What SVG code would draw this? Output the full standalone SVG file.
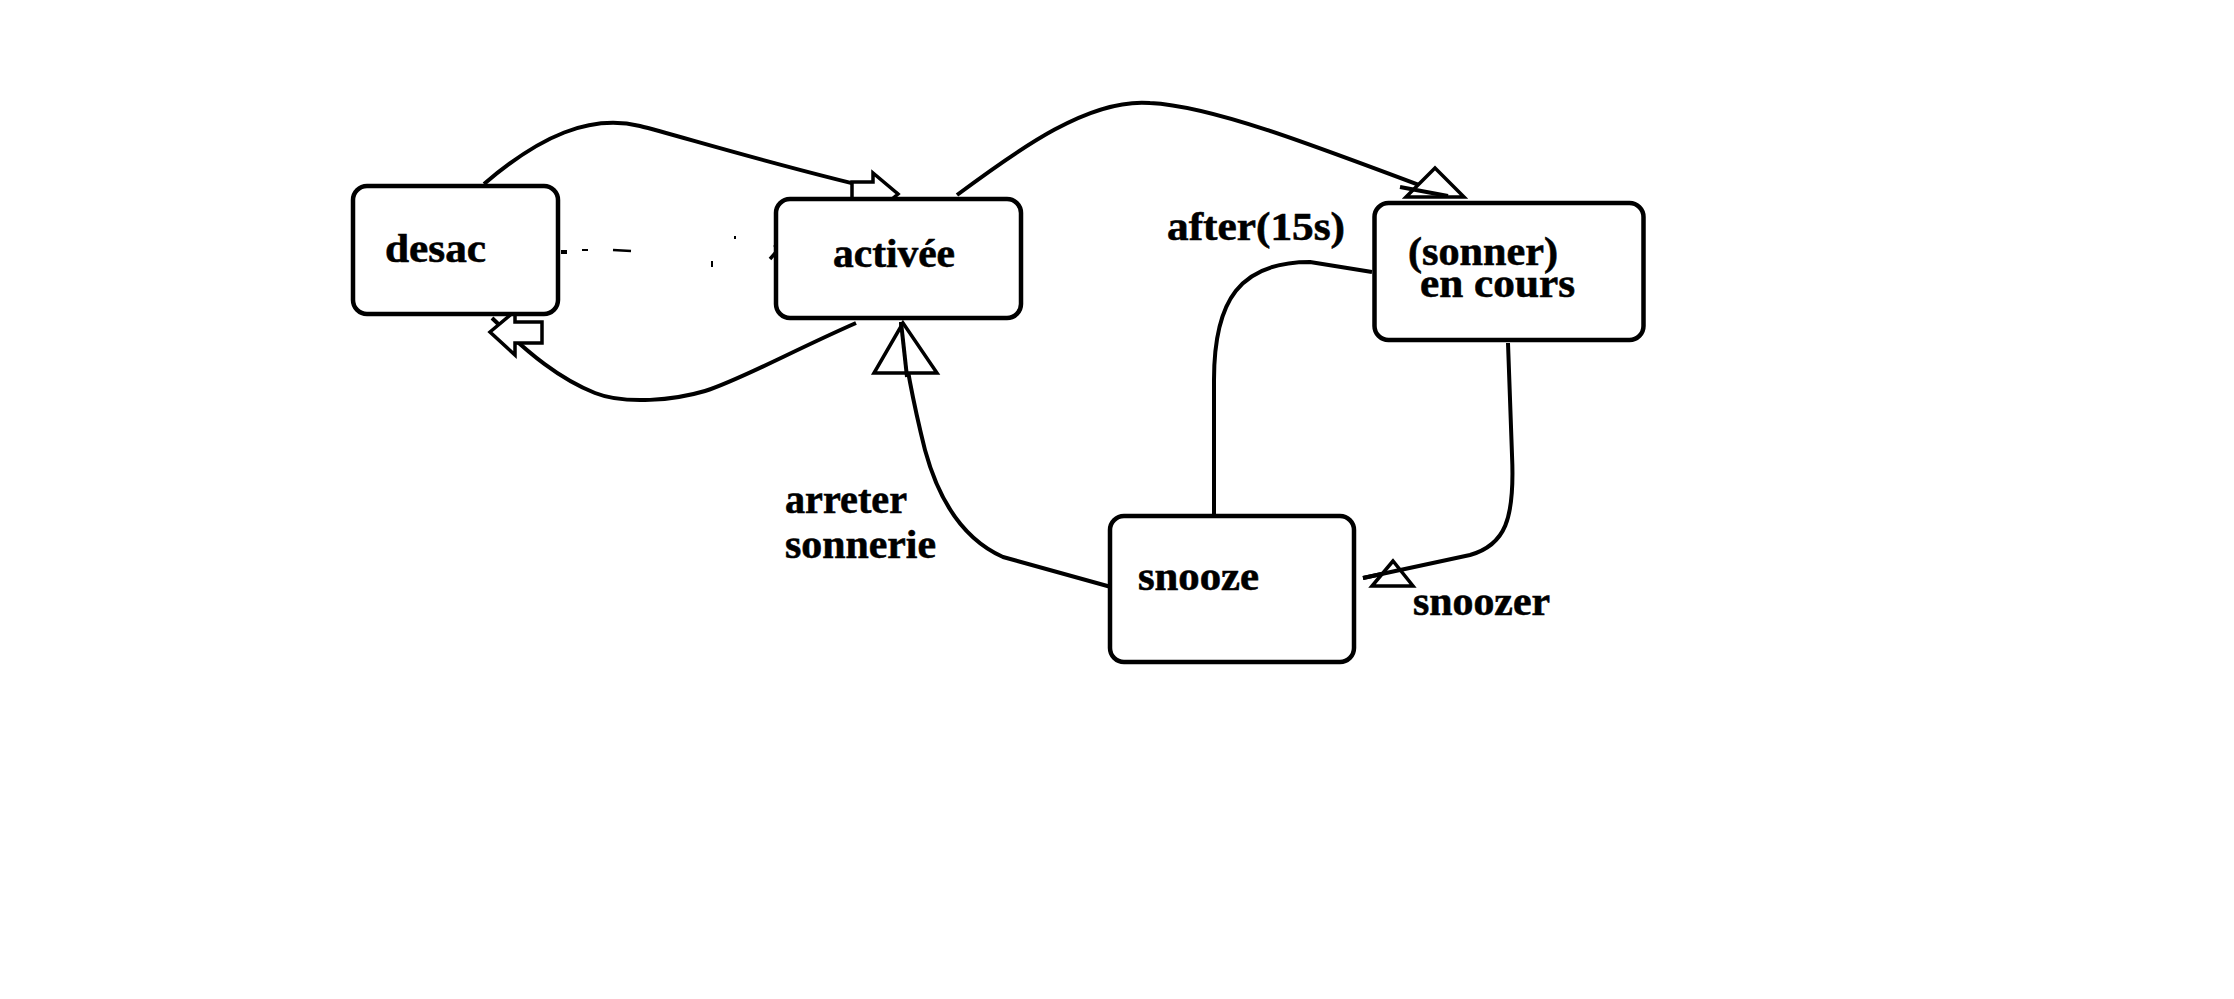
<svg xmlns="http://www.w3.org/2000/svg" width="2234" height="999" viewBox="0 0 2234 999">
<style>
.box{fill:#fff;stroke:#000;stroke-width:4.5}
.lbl{font-family:"Liberation Serif","Times New Roman",serif;font-weight:bold;font-size:41px;fill:#000;stroke:#000;stroke-width:0.6}
.c{fill:none;stroke:#000;stroke-width:4;stroke-linejoin:round}
.h{fill:#fff;stroke:#000;stroke-width:3.5;stroke-linejoin:miter}
</style>
<rect width="2234" height="999" fill="#fff"/>
<g id="connectors">
  <path class="c" d="M484,184 C540,136 590,114 640,126 C680,136 790,170 898,194"/>
  <path class="c" d="M856,323 C790,352 740,380 705,391 C675,400 625,405 595,393 C560,379 530,355 492,318"/>
  <path class="c" d="M957,195 C1020,148 1090,98 1150,103 C1210,106 1300,140 1448,196"/>
  <path class="c" d="M1214,514 L1214,380 C1214,300 1240,262 1310,262 L1372,272"/>
  <path class="c" d="M1508,343 L1512,455 C1515,520 1505,545 1470,555 L1363,578"/>
  <path class="c" d="M1111,587 L1003,557 C965,540 940,505 925,450 C915,410 906,370 901,322"/>
  <g id="dashed">
    <rect x="561" y="250" width="6" height="4" fill="#000"/>
    <line x1="582" y1="250" x2="588" y2="250" stroke="#000" stroke-width="2"/>
    <line x1="613" y1="250" x2="631" y2="251" stroke="#000" stroke-width="2.5"/>
    <line x1="712" y1="261" x2="712" y2="267" stroke="#000" stroke-width="2"/>
    <rect x="734" y="236" width="2" height="3" fill="#000"/>
    <path d="M770,259 L777,251 L775,245" fill="none" stroke="#000" stroke-width="3.5"/>
  </g>
  <polygon class="h" points="852,182 873,182 873,173 898,194 873,215 873,203 852,203"/>
  <polygon class="h" points="515,311 490,332 515,355 515,343 542,343 542,322 515,322"/>
  <polygon class="h" points="903,323 874,373 937,373"/>
  <polygon class="h" points="1435,168 1406,197 1464,197"/>
  <polygon class="h" points="1393,561 1372,586 1413,586"/>
  <path class="c" d="M901,322 L907,377"/>
  <path class="c" d="M1400,187 L1448,196"/>
  <path class="c" d="M1363,578 L1400,570"/>
</g>
<g id="desac">
  <rect class="box" x="353" y="186" width="205" height="128" rx="14"/>
  <text class="lbl" x="385" y="262" textLength="101" lengthAdjust="spacingAndGlyphs">desac</text>
</g>
<g id="activee">
  <rect class="box" x="776" y="199" width="245" height="119" rx="14"/>
  <text class="lbl" x="833" y="267" textLength="122" lengthAdjust="spacingAndGlyphs">activée</text>
</g>
<g id="sonner">
  <rect class="box" x="1374.5" y="203" width="269" height="137" rx="14"/>
  <text class="lbl"><tspan x="1408" y="265" textLength="150" lengthAdjust="spacingAndGlyphs">(sonner)</tspan><tspan x="1420" y="297" textLength="155" lengthAdjust="spacingAndGlyphs">en cours</tspan></text>
</g>
<g id="snooze">
  <rect class="box" x="1110" y="516" width="244" height="146" rx="14"/>
  <text class="lbl" x="1138" y="590" textLength="121" lengthAdjust="spacingAndGlyphs">snooze</text>
</g>
<g id="labels">
  <text class="lbl" x="1167" y="240" textLength="178" lengthAdjust="spacingAndGlyphs">after(15s)</text>
  <text class="lbl" x="785" y="513" textLength="122" lengthAdjust="spacingAndGlyphs">arreter</text>
  <text class="lbl" x="785" y="558" textLength="151" lengthAdjust="spacingAndGlyphs">sonnerie</text>
  <text class="lbl" x="1413" y="615" textLength="137" lengthAdjust="spacingAndGlyphs">snoozer</text>
</g>
</svg>
